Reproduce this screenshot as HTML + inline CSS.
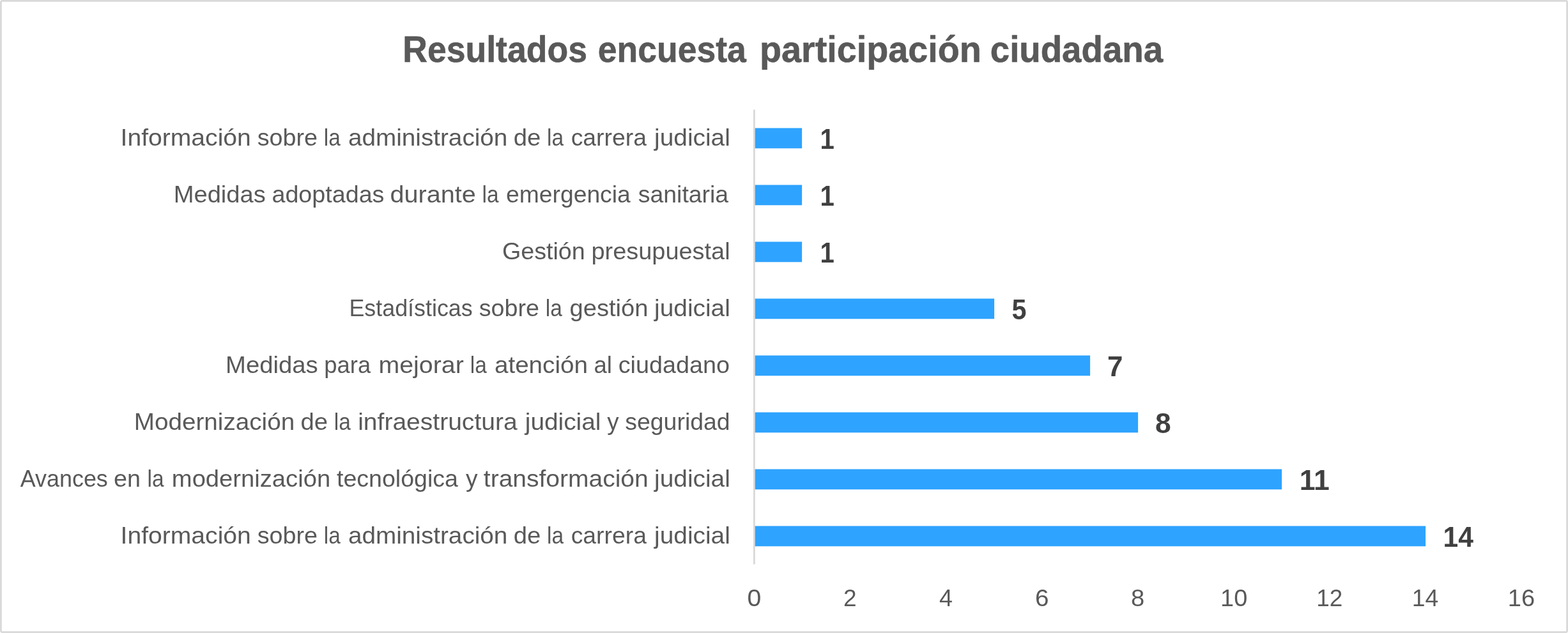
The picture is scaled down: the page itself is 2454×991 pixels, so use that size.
<!DOCTYPE html>
<html lang="es">
<head>
<meta charset="utf-8">
<title>Resultados encuesta participación ciudadana</title>
<style>
html,body{margin:0;padding:0;background:#fff}
body{width:2454px;height:991px;overflow:hidden}
svg{display:block;font-family:"Liberation Sans",sans-serif}
text{white-space:pre}
.t{font-weight:700;fill:#595959;stroke:#595959;stroke-width:0.6px;stroke-linejoin:round;font-size:57.0px}
.c{font-weight:400;fill:#595959;font-size:37.0px}
.d{font-weight:700;fill:#404040;font-size:43.9px}
.a{font-weight:400;fill:#595959;font-size:37.5px}
</style>
</head>
<body>
<svg width="2454" height="991" viewBox="0 0 2454 991" role="img" aria-label="Resultados encuesta participación ciudadana">
<rect x="0" y="0" width="2454" height="991" fill="#ffffff"/>
<rect x="1.4" y="1.4" width="2451.2" height="988.2" rx="2" ry="2" fill="none" stroke="#d9d9d9" stroke-width="2.8"/>
<g id="title">
<text class="t" y="97.30"><tspan x="630.22" textLength="288.75" lengthAdjust="spacingAndGlyphs">Resultados</tspan> <tspan x="935.82" textLength="231.97" lengthAdjust="spacingAndGlyphs">encuesta</tspan> <tspan x="1188.99" textLength="346.76" lengthAdjust="spacingAndGlyphs">participación</tspan> <tspan x="1549.75" textLength="270.34" lengthAdjust="spacingAndGlyphs">ciudadana</tspan></text>
</g>
<g id="bars" fill="#2ea3ff">
<rect x="1180" y="200.50" width="75.12" height="31.75"/>
<rect x="1180" y="289.50" width="75.12" height="31.75"/>
<rect x="1180" y="378.50" width="75.12" height="31.75"/>
<rect x="1180" y="467.50" width="376.10" height="31.75"/>
<rect x="1180" y="556.50" width="526.10" height="31.75"/>
<rect x="1180" y="645.50" width="601.10" height="31.75"/>
<rect x="1180" y="734.50" width="826.10" height="31.75"/>
<rect x="1180" y="823.50" width="1051.10" height="31.75"/>
</g>
<rect id="axis" x="1178.95" y="171.65" width="2.85" height="711.80" fill="#d9d9d9"/>
<g id="categories">
<text class="c" y="228.00"><tspan x="188.52" textLength="204.32" lengthAdjust="spacingAndGlyphs">Información</tspan> <tspan x="402.69" textLength="94.32" lengthAdjust="spacingAndGlyphs">sobre</tspan> <tspan x="506.82" textLength="26.07" lengthAdjust="spacingAndGlyphs">la</tspan> <tspan x="544.92" textLength="249.47" lengthAdjust="spacingAndGlyphs">administración</tspan> <tspan x="803.70" textLength="42.55" lengthAdjust="spacingAndGlyphs">de</tspan> <tspan x="856.05" textLength="26.04" lengthAdjust="spacingAndGlyphs">la</tspan> <tspan x="893.68" textLength="118.25" lengthAdjust="spacingAndGlyphs">carrera</tspan> <tspan x="1024.00" textLength="118.89" lengthAdjust="spacingAndGlyphs">judicial</tspan></text>
<text class="c" y="317.00"><tspan x="271.65" textLength="144.24" lengthAdjust="spacingAndGlyphs">Medidas</tspan> <tspan x="425.48" textLength="175.98" lengthAdjust="spacingAndGlyphs">adoptadas</tspan> <tspan x="610.49" textLength="134.16" lengthAdjust="spacingAndGlyphs">durante</tspan> <tspan x="754.52" textLength="26.04" lengthAdjust="spacingAndGlyphs">la</tspan> <tspan x="792.12" textLength="194.64" lengthAdjust="spacingAndGlyphs">emergencia</tspan> <tspan x="998.82" textLength="141.33" lengthAdjust="spacingAndGlyphs">sanitaria</tspan></text>
<text class="c" y="406.00"><tspan x="785.99" textLength="129.74" lengthAdjust="spacingAndGlyphs">Gestión</tspan> <tspan x="925.53" textLength="217.12" lengthAdjust="spacingAndGlyphs">presupuestal</tspan></text>
<text class="c" y="495.00"><tspan x="546.45" textLength="193.27" lengthAdjust="spacingAndGlyphs">Estadísticas</tspan> <tspan x="749.77" textLength="94.07" lengthAdjust="spacingAndGlyphs">sobre</tspan> <tspan x="853.71" textLength="26.04" lengthAdjust="spacingAndGlyphs">la</tspan> <tspan x="891.54" textLength="122.89" lengthAdjust="spacingAndGlyphs">gestión</tspan> <tspan x="1024.00" textLength="118.89" lengthAdjust="spacingAndGlyphs">judicial</tspan></text>
<text class="c" y="584.00"><tspan x="353.08" textLength="144.58" lengthAdjust="spacingAndGlyphs">Medidas</tspan> <tspan x="507.31" textLength="72.83" lengthAdjust="spacingAndGlyphs">para</tspan> <tspan x="592.48" textLength="133.26" lengthAdjust="spacingAndGlyphs">mejorar</tspan> <tspan x="735.82" textLength="26.06" lengthAdjust="spacingAndGlyphs">la</tspan> <tspan x="773.93" textLength="146.03" lengthAdjust="spacingAndGlyphs">atención</tspan> <tspan x="929.56" textLength="28.44" lengthAdjust="spacingAndGlyphs">al</tspan> <tspan x="967.65" textLength="174.24" lengthAdjust="spacingAndGlyphs">ciudadano</tspan></text>
<text class="c" y="673.00"><tspan x="209.74" textLength="251.42" lengthAdjust="spacingAndGlyphs">Modernización</tspan> <tspan x="470.46" textLength="42.55" lengthAdjust="spacingAndGlyphs">de</tspan> <tspan x="522.82" textLength="26.05" lengthAdjust="spacingAndGlyphs">la</tspan> <tspan x="560.18" textLength="249.48" lengthAdjust="spacingAndGlyphs">infraestructura</tspan> <tspan x="821.75" textLength="118.72" lengthAdjust="spacingAndGlyphs">judicial</tspan> <tspan x="950.21" textLength="18.31" lengthAdjust="spacingAndGlyphs">y</tspan> <tspan x="978.30" textLength="164.34" lengthAdjust="spacingAndGlyphs">seguridad</tspan></text>
<text class="c" y="762.00"><tspan x="31.77" textLength="137.05" lengthAdjust="spacingAndGlyphs">Avances</tspan> <tspan x="178.13" textLength="42.00" lengthAdjust="spacingAndGlyphs">en</tspan> <tspan x="230.47" textLength="26.04" lengthAdjust="spacingAndGlyphs">la</tspan> <tspan x="268.83" textLength="248.33" lengthAdjust="spacingAndGlyphs">modernización</tspan> <tspan x="527.00" textLength="189.97" lengthAdjust="spacingAndGlyphs">tecnológica</tspan> <tspan x="728.98" textLength="18.57" lengthAdjust="spacingAndGlyphs">y</tspan> <tspan x="756.84" textLength="257.83" lengthAdjust="spacingAndGlyphs">transformación</tspan> <tspan x="1024.00" textLength="118.89" lengthAdjust="spacingAndGlyphs">judicial</tspan></text>
<text class="c" y="851.00"><tspan x="188.52" textLength="204.32" lengthAdjust="spacingAndGlyphs">Información</tspan> <tspan x="402.69" textLength="94.32" lengthAdjust="spacingAndGlyphs">sobre</tspan> <tspan x="506.83" textLength="26.03" lengthAdjust="spacingAndGlyphs">la</tspan> <tspan x="544.92" textLength="249.47" lengthAdjust="spacingAndGlyphs">administración</tspan> <tspan x="803.70" textLength="42.55" lengthAdjust="spacingAndGlyphs">de</tspan> <tspan x="856.05" textLength="26.04" lengthAdjust="spacingAndGlyphs">la</tspan> <tspan x="893.68" textLength="118.25" lengthAdjust="spacingAndGlyphs">carrera</tspan> <tspan x="1024.00" textLength="118.89" lengthAdjust="spacingAndGlyphs">judicial</tspan></text>
</g>
<g id="values">
<text class="d" x="1283.54" y="233.00" textLength="22.33" lengthAdjust="spacingAndGlyphs">1</text>
<text class="d" x="1283.54" y="322.00" textLength="22.33" lengthAdjust="spacingAndGlyphs">1</text>
<text class="d" x="1283.54" y="411.00" textLength="22.33" lengthAdjust="spacingAndGlyphs">1</text>
<text class="d" x="1583.59" y="500.00" textLength="22.98" lengthAdjust="spacingAndGlyphs">5</text>
<text class="d" x="1733.07" y="589.00" textLength="24.40" lengthAdjust="spacingAndGlyphs">7</text>
<text class="d" x="1807.93" y="678.00" textLength="24.69" lengthAdjust="spacingAndGlyphs">8</text>
<text class="d" x="2033.67" y="767.00" textLength="47.11" lengthAdjust="spacingAndGlyphs">11</text>
<text class="d" x="2258.54" y="856.00" textLength="47.40" lengthAdjust="spacingAndGlyphs">14</text>
</g>
<g id="ticks">
<text class="a" x="1169.53" y="949.00" textLength="21.80" lengthAdjust="spacingAndGlyphs">0</text>
<text class="a" x="1320.12" y="949.00" textLength="20.59" lengthAdjust="spacingAndGlyphs">2</text>
<text class="a" x="1470.05" y="949.00" textLength="20.92" lengthAdjust="spacingAndGlyphs">4</text>
<text class="a" x="1620.05" y="949.00" textLength="21.51" lengthAdjust="spacingAndGlyphs">6</text>
<text class="a" x="1769.96" y="949.00" textLength="21.20" lengthAdjust="spacingAndGlyphs">8</text>
<text class="a" x="1910.14" y="949.00" textLength="42.13" lengthAdjust="spacingAndGlyphs">10</text>
<text class="a" x="2060.29" y="949.00" textLength="41.01" lengthAdjust="spacingAndGlyphs">12</text>
<text class="a" x="2209.79" y="949.00" textLength="41.52" lengthAdjust="spacingAndGlyphs">14</text>
<text class="a" x="2359.89" y="949.00" textLength="42.42" lengthAdjust="spacingAndGlyphs">16</text>
</g>
</svg>
</body>
</html>
